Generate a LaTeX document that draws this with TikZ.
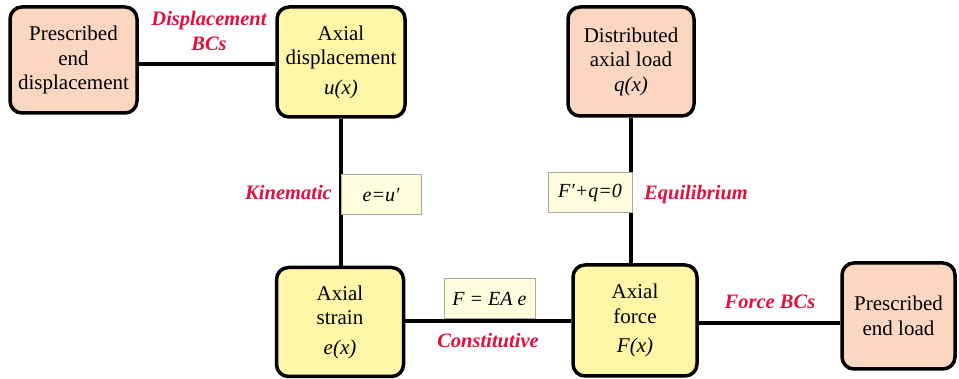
\documentclass[tikz,border=0pt]{standalone}
\usepackage{fontspec}
\setmainfont{Liberation Serif}
\definecolor{boxyellow}{RGB}{255,246,168}
\definecolor{boxpink}{RGB}{251,214,192}
\definecolor{formfill}{RGB}{255,253,222}
\definecolor{formline}{RGB}{170,170,160}
\definecolor{labred}{RGB}{225,16,60}
\begin{document}
\begin{tikzpicture}[x=1pt,y=-1pt,
  mainbox/.style={draw=black,line width=3.5pt,rounded corners=12pt,align=center,
    inner sep=0pt,font=\fontsize{21}{24.5}\selectfont},
  ybox/.style={mainbox,fill=boxyellow},
  pbox/.style={mainbox,fill=boxpink},
  formbox/.style={draw=formline,line width=1pt,fill=formfill,inner sep=0pt,
    font=\fontsize{20}{24}\selectfont\itshape},
  redlab/.style={text=labred,font=\fontsize{20.5}{25}\selectfont\bfseries\itshape,align=center,inner sep=0pt},
  conn/.style={line width=4pt,black}]
\useasboundingbox (0,0) rectangle (959,379);
% main boxes
\node[pbox,minimum width=127pt,minimum height=106pt] (A) at (73.5,60) {Prescribed\\end\\displacement};
\node[ybox,minimum width=128pt,minimum height=110pt] (B) at (341,62) {Axial\\displacement\\[5pt]\textit{u(x)}};
\node[pbox,minimum width=126pt,minimum height=109pt] (C) at (631,61.5) {Distributed\\axial load\\\textit{q(x)}};
\node[ybox,minimum width=127pt,minimum height=109pt] (D) at (340,322) {Axial\\strain\\[5pt]\textit{e(x)}};
\node[ybox,minimum width=124pt,minimum height=111pt] (E) at (635,320.5) {Axial\\force\\[5pt]\textit{F(x)}};
\node[pbox,minimum width=113pt,minimum height=106pt] (F) at (898.5,316) {Prescribed\\end load};
% connectors
\draw[conn] (A.east |- 0,64) coordinate (a1) -- (B.west |- a1);
\draw[conn] (B.south) -- (B.south |- D.north);
\draw[conn] (C.south) -- (C.south |- E.north);
\draw[conn] (D.east |- 0,321) coordinate (d1) -- (E.west |- d1);
\draw[conn] (E.east |- 0,323) coordinate (e1) -- (F.west |- e1);
% formula boxes
\node[formbox,minimum width=80pt,minimum height=40pt] (f1) at (381,195) {e=u′};
\node[formbox,minimum width=84pt,minimum height=40pt] (f2) at (590,193) {F′+q=0};
\node[formbox,minimum width=91pt,minimum height=40pt] (f3) at (489.5,299) {F = EA e};
% labels
\node[redlab] (l1) at (209,31) {Displacement\\BCs};
\node[redlab,anchor=east] (l2) at (332,192) {Kinematic};
\node[redlab,anchor=west] (l3) at (644,195) {Equilibrium};
\node[redlab] (l4) at (488,341) {Constitutive};
\node[redlab] (l5) at (770,302) {Force BCs};
\end{tikzpicture}
\end{document}
